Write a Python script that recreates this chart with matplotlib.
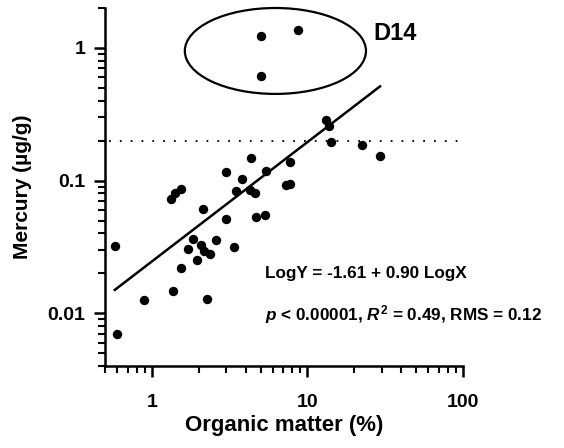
import numpy as np
import matplotlib
matplotlib.use("Agg")
import matplotlib.pyplot as plt
from matplotlib.patches import Ellipse

plt.rcParams['font.family'] = ['Liberation Sans', 'DejaVu Sans']
plt.rcParams['font.weight'] = 'bold'
plt.rcParams['mathtext.fontset'] = 'custom'
plt.rcParams['mathtext.rm'] = 'Liberation Sans:bold'
plt.rcParams['mathtext.it'] = 'Liberation Sans:italic:bold'

# organic matter (%) and mercury (ug/g) for the main group of samples
organic = [4.33, 2.99, 3.79, 5.41, 1.54, 1.41, 1.32, 3.47, 4.27, 4.60,
           2.13, 2.99, 4.66, 5.33, 0.578, 1.84, 2.58, 3.37, 1.70, 2.07,
           2.16, 2.36, 1.95, 1.54, 1.36, 0.888, 2.26, 0.596, 13.15, 13.75,
           14.2, 22.4, 29.3, 7.72, 7.3, 7.75]
mercury = [0.147, 0.117, 0.1035, 0.119, 0.087, 0.081, 0.072, 0.084, 0.0855, 0.081,
           0.0615, 0.0517, 0.0535, 0.0554, 0.0323, 0.0365, 0.0359, 0.0318, 0.0307, 0.0329,
           0.0296, 0.0281, 0.0253, 0.0221, 0.0148, 0.0126, 0.0129, 0.0070, 0.284, 0.256,
           0.194, 0.187, 0.152, 0.139, 0.092, 0.095]

# site D14 (circled, excluded from fit)
organic_d14 = [5.0, 8.7, 5.0]
mercury_d14 = [1.24, 1.36, 0.61]

# regression LogY = a + b LogX
fit_a = -1.61
fit_b = 0.90
threshold = 0.2

fig = plt.figure(figsize=(5.64, 4.48), dpi=100)
ax = fig.add_axes([105 / 564, 1 - 366 / 448, 358 / 564, 358 / 448])

ax.scatter(organic, mercury, s=46, color='black', zorder=3, linewidths=0)
ax.scatter(organic_d14, mercury_d14, s=46, color='black', zorder=3, linewidths=0)

xf = np.array([min(organic), max(organic)])
ax.plot(xf, 10 ** (fit_a + fit_b * np.log10(xf)), color='black', lw=1.8)

ax.plot([0.53, 100], [threshold, threshold], color='black', lw=1.3,
        linestyle=(0, (1, 5)), clip_on=False)

ax.add_patch(Ellipse((0.476, 0.88), 0.506, 0.24, transform=ax.transAxes,
                     fill=False, edgecolor='black', lw=1.6, clip_on=False))
ax.text(0.751, 0.93, 'D14', transform=ax.transAxes, fontsize=17,
        ha='left', va='center')

ax.text(0.447, 0.257, 'LogY = -1.61 + 0.90 LogX', transform=ax.transAxes,
        fontsize=12.3, ha='left', va='center')
ax.text(0.447, 0.145, r'$\it{p}$ < 0.00001, $\it{R}^2$ = 0.49, RMS = 0.12',
        transform=ax.transAxes, fontsize=12.3, ha='left', va='center')

ax.set_xscale('log')
ax.set_yscale('log')
ax.set_xlim(0.5, 100)
ax.set_ylim(0.004, 2)
ax.set_xticks([1, 10, 100])
ax.set_xticklabels(['1', '10', '100'])
ax.set_yticks([0.01, 0.1, 1])
ax.set_yticklabels(['0.01', '0.1', '1'])

for side in ['top', 'right']:
    ax.spines[side].set_visible(False)
for side in ['left', 'bottom']:
    ax.spines[side].set_linewidth(1.8)
ax.tick_params(which='major', length=8, width=1.8, labelsize=14, direction='out')
ax.tick_params(which='minor', length=5, width=1.5, direction='out')
ax.tick_params(axis='x', which='major', pad=12)
ax.tick_params(axis='y', which='major', pad=6)

ax.set_xlabel('Organic matter (%)', fontsize=16, fontweight='bold', labelpad=3)
ax.set_ylabel('Mercury (µg/g)', fontsize=15, fontweight='bold', labelpad=11)

fig.savefig('out.png', dpi=100)
